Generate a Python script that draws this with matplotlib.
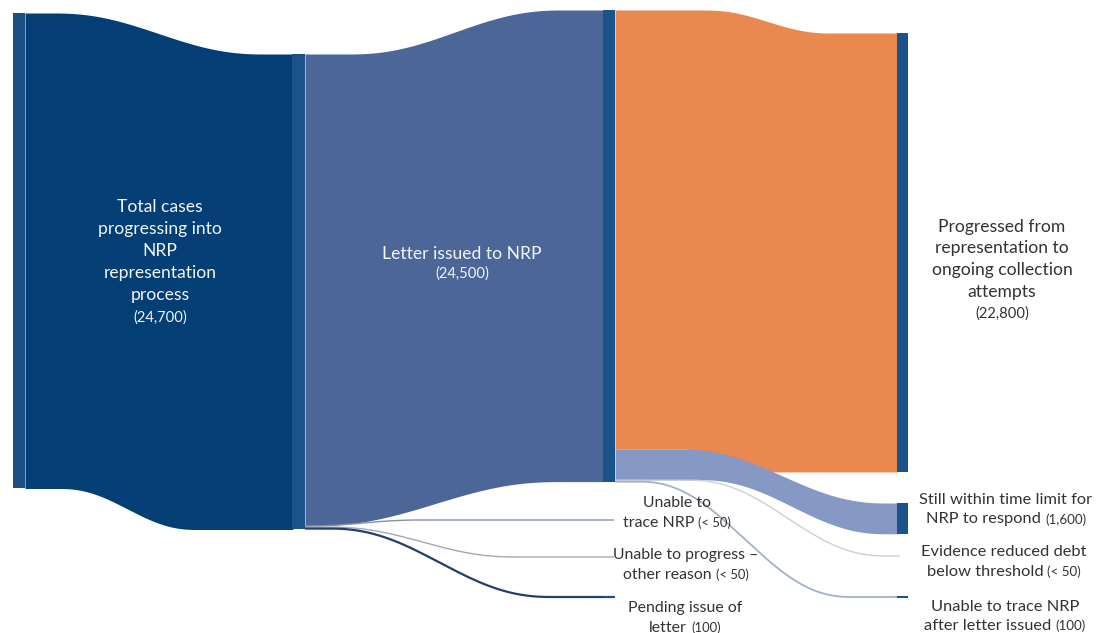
import matplotlib
matplotlib.use('Agg')
import matplotlib.pyplot as plt
import numpy as np

# ---------------- data ----------------
source_lines = ["Total cases", "progressing into", "NRP", "representation", "process"]
source_value = 24700
source_value_text = "(24,700)"

stage1_labels = [["Letter issued to NRP"],
                 ["Unable to", "trace NRP"],
                 ["Unable to progress \u2013", "other reason"],
                 ["Pending issue of", "letter"]]
stage1_values = [24500, 50, 50, 100]
stage1_value_text = ["(24,500)", "(< 50)", "(< 50)", "(100)"]

stage2_labels = [["Progressed from", "representation to", "ongoing collection", "attempts"],
                 ["Still within time limit for", "NRP to respond"],
                 ["Evidence reduced debt", "below threshold"],
                 ["Unable to trace NRP", "after letter issued"]]
stage2_values = [22800, 1600, 50, 100]
stage2_value_text = ["(22,800)", "(1,600)", "(< 50)", "(100)"]

# ---------------- style / layout ----------------
W, H = 1104, 633
K = 0.01925            # pixels per case (vertical scale)
NAVY = '#033f74'
SRC_BAR = '#1d4f86'
BAR = '#1b5289'
SLATE = '#4b6697'
ORANGE = '#e9894f'
LIGHT = '#8698c4'
TXT = '#333333'
WHITE = '#f2f4f8'
FONT = 'Lato'


def P(px):
    return px / K


fig = plt.figure(figsize=(W / 100, H / 100), dpi=100)
ax = fig.add_axes([0, 0, 1, 1])
ax.set_xlim(0, W)
ax.set_ylim(H / K, 0)
ax.axis('off')
renderer = fig.canvas.get_renderer()


def smooth(x, xs, xe):
    t = np.clip((x - xs) / (xe - xs), 0, 1)
    return t * t * t * (t * (6 * t - 15) + 10) * 0.5 + (3 * t * t - 2 * t ** 3) * 0.5


def edge(x, ya, yb, xs, xe):
    return ya + (yb - ya) * smooth(x, xs, xe)


def ribbon(x0, x1, ya_top, yb_top, tt, ya_bot, yb_bot, tb, color):
    x = np.linspace(x0, x1, 400)
    top = edge(x, ya_top, yb_top, *tt)
    bot = edge(x, ya_bot, yb_bot, *tb)
    ax.fill_between(x, top, bot, color=color, lw=0, zorder=1)


def thin(x0, x1, ya, yb, tr, color, lw):
    x = np.linspace(x0, x1, 400)
    ax.plot(x, edge(x, ya, yb, *tr), color=color, lw=lw, solid_capstyle='butt', zorder=1)


def node(x0, x1, top, value, color):
    ax.bar((x0 + x1) / 2, value, width=x1 - x0, bottom=top, color=color, lw=0, zorder=2)


def mixed(xc, base_px, parts, color):
    texts, widths = [], []
    for s, size in parts:
        t = ax.text(0, P(base_px), s, fontsize=size, color=color, ha='left',
                    va='baseline', family=FONT, zorder=5)
        texts.append(t)
        widths.append(t.get_window_extent(renderer).width)
    gap = 4.0
    total = sum(widths) + gap * (len(parts) - 1)
    x = xc - total / 2
    for t, w in zip(texts, widths):
        t.set_x(x)
        x += w + gap


# ---------------- source -> node1 ----------------
src_top = P(13)
n1_top = P(54)
ribbon(25, 293, src_top, n1_top, (55, 262),
       src_top + source_value, n1_top + source_value, (60, 195), NAVY)
node(13, 25, src_top, source_value, SRC_BAR)
node(292, 305, n1_top, source_value, BAR)

# ---------------- node1 -> stage1 ----------------
n2_top = P(10)
ribbon(305, 604, n1_top, n2_top, (350, 560),
       n1_top + stage1_values[0], n2_top + stage1_values[0], (313, 557), SLATE)

small1_end = [520, 557, 597]
small1_tr = [(305, 420), (330, 515), (330, 550)]
small1_col = ['#8291a8', '#a2a9b3', '#243f6c']
off = stage1_values[0]
for i in range(1, 4):
    v = stage1_values[i]
    y0 = n1_top + off + v / 2
    lw = 1.6 if v >= 100 else 1.0
    thin(305, 614, y0, P(small1_end[i - 1]), small1_tr[i - 1], small1_col[i - 1], lw)
    off += v
node(603, 615, P(small1_end[2]) - stage1_values[3] / 2, stage1_values[3], BAR)

# ---------------- node2 -> stage2 ----------------
n3_top = P(33)
ribbon(615, 898, n2_top, n3_top, (705, 830),
       n2_top + stage2_values[0], n3_top + stage2_values[0], (680, 760), ORANGE)
still_top = P(503)
ribbon(615, 898, n2_top + stage2_values[0], still_top, (680, 885),
       n2_top + stage2_values[0] + stage2_values[1], still_top + stage2_values[1], (700, 885), LIGHT)
off = stage2_values[0] + stage2_values[1]
thin(615, 900, n2_top + off + stage2_values[2] / 2, P(556), (690, 885), '#c9d0dc', 1.0)
off += stage2_values[2]
thin(615, 898, n2_top + off + stage2_values[3] / 2, P(597), (640, 850), '#a3b1c8', 1.3)

node(603, 615, n2_top, stage1_values[0], BAR)
node(897, 908, n3_top, stage2_values[0], BAR)
node(897, 908, still_top, stage2_values[1], BAR)
node(897, 908, P(597) - stage2_values[3] / 2, stage2_values[3], BAR)

# ---------------- labels ----------------
BIG, NUM = 12.6, 10.6
for j, line in enumerate(source_lines):
    mixed(160, 212 + 22 * j, [(line, BIG)], WHITE)
mixed(160, 322, [(source_value_text, NUM)], WHITE)

mixed(462, 259, [(stage1_labels[0][0], BIG)], WHITE)
mixed(462, 278, [(stage1_value_text[0], NUM)], WHITE)

for j, line in enumerate(stage2_labels[0]):
    mixed(1002, 232 + 21.5 * j, [(line, BIG)], TXT)
mixed(1002, 318, [(stage2_value_text[0], NUM)], TXT)

# bottom right labels
br_base = [504, 556, 611]
br_x = [1006, 1004, 1005]
for k in range(1, 4):
    lines = stage2_labels[k]
    b = br_base[k - 1]
    mixed(br_x[k - 1], b, [(lines[0], 11.8)], TXT)
    mixed(br_x[k - 1], b + 19.5, [(lines[1], 11.8), (stage2_value_text[k], 9.6)], TXT)

# bottom middle labels
bm_base = [507, 559, 612]
bm_x = [677, 686, 685]
for k in range(1, 4):
    lines = stage1_labels[k]
    b = bm_base[k - 1]
    mixed(bm_x[k - 1], b, [(lines[0], 11.4)], TXT)
    mixed(bm_x[k - 1], b + 20, [(lines[1], 11.4), (stage1_value_text[k], 9.4)], TXT)

fig.savefig('out.png', dpi=100, facecolor='white')
